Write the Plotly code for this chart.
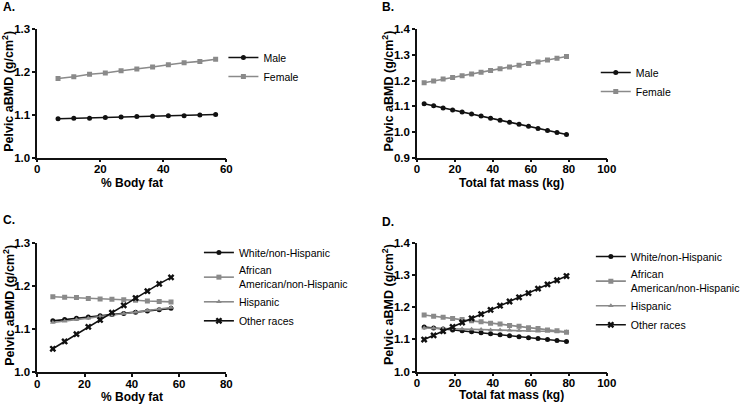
import plotly.graph_objects as go

W, H = 745, 405

# ---------------- data ----------------
A_x = [6.6, 11.6, 16.6, 21.6, 26.6, 31.6, 36.6, 41.6, 46.6, 51.6, 56.6]
A_male = [1.091, 1.092, 1.092, 1.094, 1.095, 1.096, 1.097, 1.098, 1.098, 1.100, 1.101]
A_female = [1.185, 1.189, 1.195, 1.198, 1.203, 1.207, 1.212, 1.217, 1.222, 1.225, 1.230]

B_x = [3.8, 8.8, 13.8, 18.8, 23.8, 28.8, 33.8, 38.8, 43.8, 48.8, 53.8, 58.8, 63.8, 68.8, 73.8, 78.8]
B_male = [1.110, 1.102, 1.094, 1.086, 1.078, 1.070, 1.062, 1.054, 1.046, 1.038, 1.030, 1.022, 1.014, 1.006, 0.998, 0.990]
B_female = [1.192, 1.199, 1.206, 1.212, 1.219, 1.226, 1.233, 1.240, 1.246, 1.253, 1.260, 1.267, 1.273, 1.280, 1.287, 1.294]

C_x = [6.6, 11.6, 16.6, 21.6, 26.6, 31.6, 36.6, 41.6, 46.6, 51.6, 56.6]
C_white = [1.119, 1.122, 1.125, 1.128, 1.131, 1.134, 1.136, 1.139, 1.142, 1.145, 1.148]
C_aa = [1.175, 1.174, 1.173, 1.171, 1.170, 1.169, 1.168, 1.167, 1.165, 1.164, 1.163]
C_hisp = [1.115, 1.118, 1.122, 1.125, 1.129, 1.132, 1.136, 1.139, 1.143, 1.146, 1.150]
C_other = [1.054, 1.071, 1.088, 1.105, 1.121, 1.138, 1.155, 1.172, 1.188, 1.205, 1.220]

D_x = [3.8, 8.8, 13.8, 18.8, 23.8, 28.8, 33.8, 38.8, 43.8, 48.8, 53.8, 58.8, 63.8, 68.8, 73.8, 78.8]
D_white = [1.138, 1.135, 1.132, 1.129, 1.126, 1.123, 1.120, 1.117, 1.114, 1.111, 1.108, 1.105, 1.102, 1.099, 1.096, 1.093]
D_aa = [1.175, 1.171, 1.168, 1.164, 1.161, 1.157, 1.154, 1.150, 1.147, 1.143, 1.140, 1.136, 1.133, 1.129, 1.126, 1.122]
D_hisp = [1.135, 1.134, 1.133, 1.133, 1.132, 1.131, 1.130, 1.129, 1.129, 1.128, 1.127, 1.126, 1.125, 1.125, 1.124, 1.123]
D_other = [1.099, 1.112, 1.125, 1.138, 1.152, 1.165, 1.178, 1.191, 1.204, 1.217, 1.230, 1.243, 1.257, 1.270, 1.283, 1.296]

sex_names = ["Male", "Female"]
race_names = ["White/non-Hispanic", "African<br>American/non-Hispanic", "Hispanic", "Other races"]
panel_labels = ["A.", "B.", "C.", "D."]
x_titles = ["% Body fat", "Total fat mass (kg)", "% Body fat", "Total fat mass (kg)"]
y_title = "Pelvic aBMD (g/cm<sup>2</sup>)"

# ---------------- styling ----------------
BLACK = "#111111"
GRAY = "#8a8a8a"
FONT = "Arial, Liberation Sans, sans-serif"

def px_x(p):
    return p / W

def px_y(p):
    return 1 - p / H

# plot-area pixel boxes: (left, right, top, bottom)
boxes = {
    1: (38, 231, 29.3, 157.7),
    2: (425.5, 619.2, 29.3, 157.7),
    3: (38, 231, 243, 372),
    4: (425.5, 619.2, 242.5, 371.5),
}
xranges = {1: [0, 60], 2: [0, 100], 3: [0, 80], 4: [0, 100]}
yranges = {1: [1.0, 1.3], 2: [0.9, 1.4], 3: [1.0, 1.3], 4: [1.0, 1.4]}

fig = go.Figure()

def add(i, x, y, name, color, symbol, size, legend):
    xa = "x" if i == 1 else f"x{i}"
    ya = "y" if i == 1 else f"y{i}"
    fig.add_trace(go.Scatter(
        x=x, y=y, name=name, xaxis=xa, yaxis=ya, mode="lines+markers",
        line=dict(color=color, width=1.6),
        marker=dict(color=color, symbol=symbol, size=size, line=dict(width=0)),
        legend=legend,
    ))

add(1, A_x, A_male, sex_names[0], BLACK, "circle", 5, "legend")
add(1, A_x, A_female, sex_names[1], GRAY, "square", 5, "legend")
add(2, B_x, B_male, sex_names[0], BLACK, "circle", 5, "legend2")
add(2, B_x, B_female, sex_names[1], GRAY, "square", 5, "legend2")
add(3, C_x, C_white, race_names[0], BLACK, "circle", 5, "legend3")
add(3, C_x, C_aa, race_names[1], GRAY, "square", 5, "legend3")
add(3, C_x, C_hisp, race_names[2], GRAY, "triangle-up", 5, "legend3")
add(3, C_x, C_other, race_names[3], BLACK, "x", 6, "legend3")
add(4, D_x, D_white, race_names[0], BLACK, "circle", 5, "legend4")
add(4, D_x, D_aa, race_names[1], GRAY, "square", 5, "legend4")
add(4, D_x, D_hisp, race_names[2], GRAY, "triangle-up", 5, "legend4")
add(4, D_x, D_other, race_names[3], BLACK, "x", 6, "legend4")

layout = dict(
    width=W, height=H, margin=dict(l=0, r=0, t=0, b=0),
    paper_bgcolor="white", plot_bgcolor="white",
    font=dict(family=FONT, color="black", size=11),
    showlegend=True,
)

axis_common = dict(
    showgrid=False, zeroline=False, showline=True, linecolor=BLACK, linewidth=1.5,
    ticks="outside", ticklen=3, tickwidth=1.5, tickcolor=BLACK,
    tickfont=dict(family=FONT, size=11.5, color="black", weight="bold"),
    automargin=False, fixedrange=True,
)

for i, (l, r, t, b) in boxes.items():
    xk = "xaxis" if i == 1 else f"xaxis{i}"
    yk = "yaxis" if i == 1 else f"yaxis{i}"
    xa = "x" if i == 1 else f"x{i}"
    ya = "y" if i == 1 else f"y{i}"
    layout[xk] = dict(axis_common, domain=[px_x(l), px_x(r)], range=xranges[i],
                      dtick=20, tick0=0, anchor=ya, ticklabelstandoff=-3)
    layout[yk] = dict(axis_common, domain=[px_y(b), px_y(t)], range=yranges[i],
                      dtick=0.1, tick0=0, tickformat=".1f", anchor=xa)

legend_common = dict(
    font=dict(family=FONT, size=10.5, color="black"),
    bgcolor="rgba(0,0,0,0)", borderwidth=0, xanchor="left", yanchor="top",
    itemwidth=30, tracegroupgap=0,
)
layout["legend"] = dict(legend_common, x=px_x(228), y=px_y(43))
layout["legend2"] = dict(legend_common, x=px_x(608), y=px_y(58))
layout["legend3"] = dict(legend_common, x=px_x(203), y=px_y(238))
layout["legend4"] = dict(legend_common, x=px_x(603), y=px_y(242))

annotations = []
# panel labels
for lab, (lx, ly) in zip(panel_labels, [(1, 7), (388, 7), (1, 220), (388, 221.5)]):
    annotations.append(dict(text=f"<b>{lab}</b>", x=px_x(lx), y=px_y(ly), xref="paper", yref="paper",
                            xanchor="left", yanchor="middle", showarrow=False,
                            font=dict(family=FONT, size=12, color="black")))
# axis titles
for i, (l, r, t, b) in boxes.items():
    xt_y = {1: 183.3, 2: 182.7, 3: 397, 4: 394.5}[i]
    annotations.append(dict(text=f"<b>{x_titles[i-1]}</b>", x=px_x((l + r) / 2), y=px_y(xt_y),
                            xref="paper", yref="paper", xanchor="center", yanchor="middle",
                            showarrow=False, font=dict(family=FONT, size=12, color="black")))
    yt_x = l - 29.5
    annotations.append(dict(text=f"<b>{y_title}</b>", x=px_x(yt_x), y=px_y((t + b) / 2 - 2),
                            xref="paper", yref="paper", xanchor="center", yanchor="middle",
                            textangle=-90, showarrow=False,
                            font=dict(family=FONT, size=12.5, color="black")))
layout["annotations"] = annotations

fig.update_layout(**layout)
fig.write_html("out.html", config={"displayModeBar": False},
               post_script="document.body.style.margin='0';document.body.style.overflow='hidden';")
